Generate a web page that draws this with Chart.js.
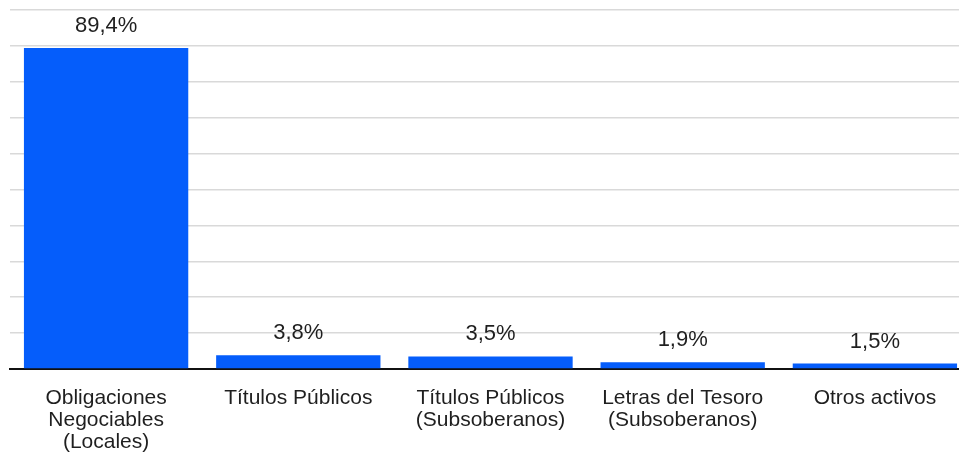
<!DOCTYPE html>
<html>
<head>
<meta charset="utf-8">
<script src="https://cdn.jsdelivr.net/npm/chart.js@4.4.1/dist/chart.umd.min.js"></script>
<style>
  html, body { margin: 0; padding: 0; background: #fff; overflow: hidden; }
  #wrap { width: 975px; height: 456px; position: relative; }
</style>
</head>
<body>
<div id="wrap"><canvas id="chart"></canvas></div>
<script>
// categories and values
const categories = [
    ['Obligaciones', 'Negociables', '(Locales)'],
    'Títulos Públicos',
    ['Títulos Públicos', '(Subsoberanos)'],
    ['Letras del Tesoro', '(Subsoberanos)'],
    'Otros activos'
];
const shares = [89.4, 3.8, 3.5, 1.9, 1.5];
const yMin = 0;
const yMax = 100;
const yStep = 10;

const barColor = '#055dfb';
const textColor = '#1f1f1f';

// value labels on top of each bar
const valueLabels = {
    id: 'valueLabels',
    afterDatasetsDraw(chart) {
        const ctx = chart.ctx;
        const meta = chart.getDatasetMeta(0);
        ctx.save();
        ctx.font = '22px "Liberation Sans", Arial, sans-serif';
        ctx.fillStyle = textColor;
        ctx.textAlign = 'center';
        ctx.textBaseline = 'middle';
        meta.data.forEach((bar, i) => {
            const txt = shares[i].toFixed(1).replace('.', ',') + '%';
            ctx.fillText(txt, bar.x, bar.y - 22);
        });
        ctx.restore();
    }
};

new Chart(document.getElementById('chart'), {
    type: 'bar',
    data: {
        labels: categories,
        datasets: [{
            data: shares,
            backgroundColor: barColor,
            borderWidth: 0,
            categoryPercentage: 1,
            barPercentage: 0.855
        }]
    },
    options: {
        responsive: true,
        maintainAspectRatio: false,
        animation: false,
        layout: { padding: { left: 10, right: 4, top: 10, bottom: 0 } },
        plugins: {
            legend: { display: false },
            tooltip: { enabled: false }
        },
        scales: {
            x: {
                grid: { display: false },
                border: { display: true, color: '#111', width: 2 },
                ticks: {
                    color: textColor,
                    font: { family: '"Liberation Sans", Arial, sans-serif', size: 21, lineHeight: 1.05 },
                    padding: 10,
                    maxRotation: 0,
                    autoSkip: false
                },
                afterFit(scale) {
                    scale.height = 87;
                }
            },
            y: {
                min: yMin,
                max: yMax,
                ticks: { display: false, stepSize: yStep },
                border: { display: false },
                grid: { color: '#d9d9d9', lineWidth: 1.5, drawTicks: false }
            }
        }
    },
    plugins: [valueLabels]
});
</script>
</body>
</html>
